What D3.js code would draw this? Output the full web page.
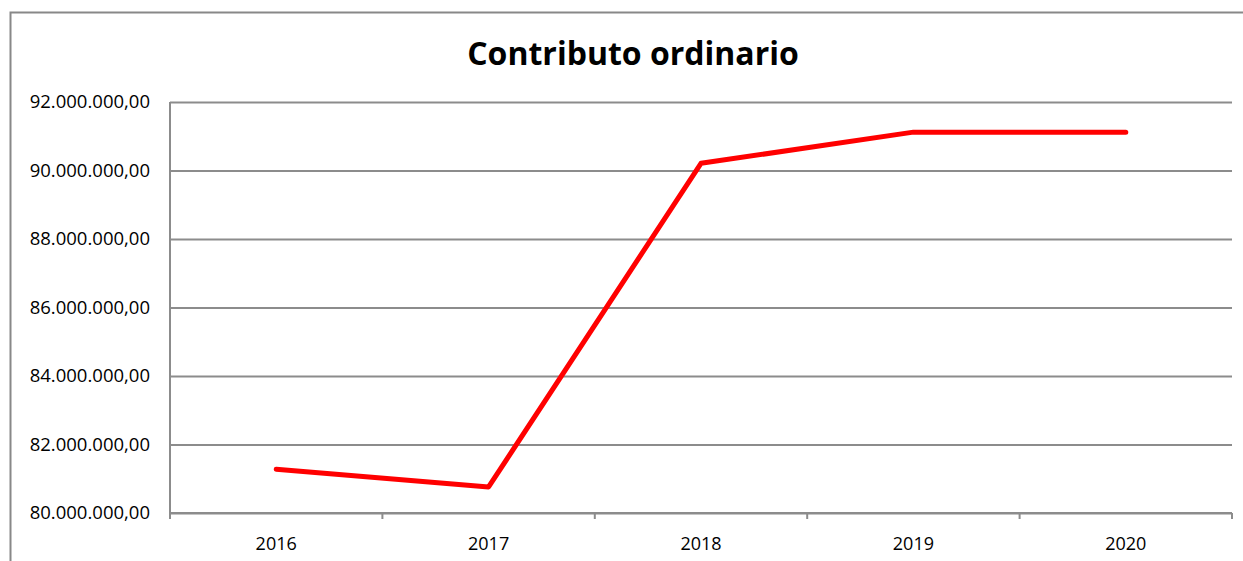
<!DOCTYPE html>
<html lang="it">
<head>
<meta charset="UTF-8">
<title>Contributo ordinario</title>
<style>
  body { margin: 0; background: #fff; }
  svg { display: block; font-family: "Open Sans", "Noto Sans", sans-serif; }
</style>
</head>
<body>
<svg></svg>
<script src="https://d3js.org/d3.v7.min.js"></script>
<script>
const years = ['2016', '2017', '2018', '2019', '2020'];
const values = [81280000, 80760000, 90210000, 91120000, 91120000];
const yTicks = [80000000, 82000000, 84000000, 86000000, 88000000, 90000000, 92000000];

const W = 1243, H = 561;
const margin = { top: 102, right: 11, bottom: 48, left: 170 };
const width = W - margin.left - margin.right;
const height = H - margin.top - margin.bottom;

const svg = d3.select('svg').attr('width', W).attr('height', H);

// chart frame
svg.append('rect')
  .attr('x', 10.5).attr('y', 12.5)
  .attr('width', W + 10).attr('height', H + 10)
  .attr('fill', 'none').attr('stroke', '#888').attr('stroke-width', 2);

svg.append('text')
  .attr('x', 633).attr('y', 65)
  .attr('text-anchor', 'middle')
  .attr('font-size', 32).attr('font-weight', 'bold')
  .attr('fill', '#000')
  .text('Contributo ordinario');

const g = svg.append('g').attr('transform', `translate(${margin.left},${margin.top})`);

const x = d3.scaleBand().domain(years).range([0, width]);
const y = d3.scaleLinear().domain([80000000, 92000000]).range([height, 0]);

const fmt = v => d3.format(',.2f')(v).replace(/,/g, '#').replace('.', ',').replace(/#/g, '.');

// gridlines + y labels
g.append('g')
  .call(d3.axisLeft(y).tickValues(yTicks).tickSize(-width).tickFormat(fmt))
  .call(a => a.select('.domain').remove())
  .call(a => a.selectAll('line').attr('stroke', '#8c8c8c').attr('stroke-width', 2))
  .call(a => a.selectAll('text').attr('x', -20).attr('font-size', 18.5).attr('fill', '#000')
    .attr('font-family', '"Open Sans", sans-serif'));

// left axis line
g.append('line')
  .attr('x1', 0).attr('x2', 0).attr('y1', 0).attr('y2', height + 6)
  .attr('stroke', '#8c8c8c').attr('stroke-width', 2);

// bottom axis with ticks on category boundaries
const xAxis = g.append('g').attr('transform', `translate(0,${height})`);
xAxis.append('line')
  .attr('x1', 0).attr('x2', width)
  .attr('stroke', '#8c8c8c').attr('stroke-width', 2);
xAxis.selectAll('.bt')
  .data(years.concat(['end']))
  .enter().append('line')
  .attr('x1', (d, i) => i < years.length ? x(d) : width)
  .attr('x2', (d, i) => i < years.length ? x(d) : width)
  .attr('y1', 0).attr('y2', 6)
  .attr('stroke', '#8c8c8c').attr('stroke-width', 2);
xAxis.selectAll('.yl')
  .data(years)
  .enter().append('text')
  .attr('x', d => x(d) + x.bandwidth() / 2)
  .attr('y', 37)
  .attr('text-anchor', 'middle')
  .attr('font-size', 18).attr('fill', '#000')
  .text(d => d);

const line = d3.line()
  .x((d, i) => x(years[i]) + x.bandwidth() / 2)
  .y(d => y(d));

g.append('path')
  .datum(values)
  .attr('d', line)
  .attr('fill', 'none')
  .attr('stroke', '#ff0000')
  .attr('stroke-width', 5)
  .attr('stroke-linecap', 'round')
  .attr('stroke-linejoin', 'round');
</script>
</body>
</html>
